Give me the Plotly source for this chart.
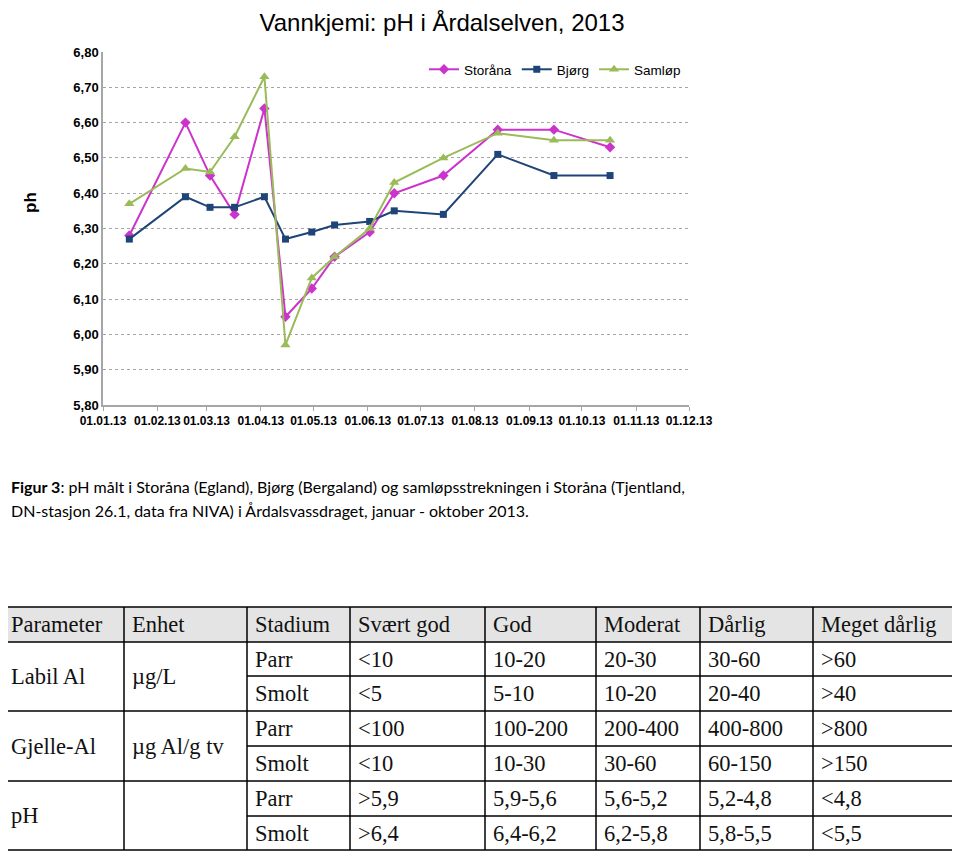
import plotly.graph_objects as go

# ---------------- data ----------------
dates = ["2013-01-16", "2013-02-17", "2013-03-03", "2013-03-17", "2013-04-03",
         "2013-04-15", "2013-04-30", "2013-05-13", "2013-06-02", "2013-06-16",
         "2013-07-14", "2013-08-14", "2013-09-15", "2013-10-17"]
storana = [6.28, 6.60, 6.45, 6.34, 6.64, 6.05, 6.13, 6.22, 6.29, 6.40, 6.45, 6.58, 6.58, 6.53]
bjorg = [6.27, 6.39, 6.36, 6.36, 6.39, 6.27, 6.29, 6.31, 6.32, 6.35, 6.34, 6.51, 6.45, 6.45]
samlop = [6.37, 6.47, 6.46, 6.56, 6.73, 5.97, 6.16, 6.22, 6.30, 6.43, 6.50, 6.57, 6.55, 6.55]

y_ticks = [5.8, 5.9, 6.0, 6.1, 6.2, 6.3, 6.4, 6.5, 6.6, 6.7, 6.8]
y_tick_labels = ["5,80", "5,90", "6,00", "6,10", "6,20", "6,30", "6,40", "6,50", "6,60", "6,70", "6,80"]
x_tick_dates = ["2013-01-01", "2013-02-01", "2013-03-01", "2013-04-01", "2013-05-01", "2013-06-01",
                "2013-07-01", "2013-08-01", "2013-09-01", "2013-10-01", "2013-11-01", "2013-12-01"]
x_tick_labels = ["01.01.13", "01.02.13", "01.03.13", "01.04.13", "01.05.13", "01.06.13",
                 "01.07.13", "01.08.13", "01.09.13", "01.10.13", "01.11.13", "01.12.13"]

chart_title = "Vannkjemi: pH i Årdalselven, 2013"
y_title = "ph"
caption_line1 = ("<b>Figur 3</b>: pH målt i Storåna (Egland), Bjørg (Bergaland) og "
                 "samløpsstrekningen i Storåna (Tjentland,")
caption_line2 = "DN-stasjon 26.1, data fra NIVA) i Årdalsvassdraget, januar - oktober 2013."

table_header = ["Parameter", "Enhet", "Stadium", "Svært god", "God", "Moderat", "Dårlig", "Meget dårlig"]
table_params = ["Labil Al", "Gjelle-Al", "pH"]
table_units = ["µg/L", "µg Al/g tv", ""]
table_stadium = ["Parr", "Smolt", "Parr", "Smolt", "Parr", "Smolt"]
table_values = [
    ["<10", "10-20", "20-30", "30-60", ">60"],
    ["<5", "5-10", "10-20", "20-40", ">40"],
    ["<100", "100-200", "200-400", "400-800", ">800"],
    ["<10", "10-30", "30-60", "60-150", ">150"],
    [">5,9", "5,9-5,6", "5,6-5,2", "5,2-4,8", "<4,8"],
    [">6,4", "6,4-6,2", "6,2-5,8", "5,8-5,5", "<5,5"],
]

# ---------------- layout geometry (screen pixels; page body has an 8px margin) ----------------
OFF = 8
W, H = 960 - OFF, 851 - OFF
SPL, SPR, SPT, SPB = 103, 689, 52, 405   # plot area on screen
PL, PR, PT, PB = SPL - OFF, SPR - OFF, SPT - OFF, SPB - OFF


def px(x):
    return (x - SPL) / (SPR - SPL)


def py(y):
    return (SPB - y) / (SPB - SPT)


fig = go.Figure()
fig.add_trace(go.Scatter(
    x=dates, y=storana, mode="lines+markers", name="Storåna",
    line=dict(color="#CC33CC", width=2),
    marker=dict(symbol="diamond", size=8, color="#CC33CC")))
fig.add_trace(go.Scatter(
    x=dates, y=bjorg, mode="lines+markers", name="Bjørg",
    line=dict(color="#1F4478", width=2),
    marker=dict(symbol="square", size=7, color="#1F4478")))
fig.add_trace(go.Scatter(
    x=dates, y=samlop, mode="lines+markers", name="Samløp",
    line=dict(color="#9BBB59", width=2),
    marker=dict(symbol="triangle-up", size=9, color="#9BBB59")))

annotations = []
shapes = []

# y-axis title
annotations.append(dict(text="<b>" + y_title + "</b>", x=px(30), y=py(203), xref="paper", yref="paper",
                        xanchor="center", yanchor="middle",
                        showarrow=False, textangle=-90, font=dict(family="Liberation Sans", size=17, color="#000")))

# caption
cap_font = dict(family="Lato", size=16, color="#000")
annotations.append(dict(text=caption_line1, x=px(9), y=py(486), xref="paper", yref="paper",
                        xanchor="left", yanchor="middle", showarrow=False, font=cap_font))
annotations.append(dict(text=caption_line2, x=px(9), y=py(510), xref="paper", yref="paper",
                        xanchor="left", yanchor="middle", showarrow=False, font=cap_font))

# table
col_x = [3, 124, 247, 350, 485, 596, 700, 813, 957]
row_y = [607, 642, 676, 711, 746, 781, 816, 850]
line_style = dict(color="#000", width=1.5)

shapes.append(dict(type="rect", xref="paper", yref="paper", x0=px(col_x[0]), x1=px(col_x[-1]),
                   y0=py(row_y[0]), y1=py(row_y[1]), fillcolor="#E4E4E4", line=dict(width=0), layer="below"))
for i, yv in enumerate(row_y):
    x_start = col_x[0] if i in (0, 1, 3, 5, 7) else col_x[2]
    shapes.append(dict(type="line", xref="paper", yref="paper", x0=px(x_start), x1=px(col_x[-1]),
                       y0=py(yv), y1=py(yv), line=line_style))
for xv in col_x:
    shapes.append(dict(type="line", xref="paper", yref="paper", x0=px(xv), x1=px(xv),
                       y0=py(row_y[0]), y1=py(row_y[-1]), line=line_style))

tab_font = dict(family="Liberation Serif", size=22.5, color="#111")
pad = 6


def cell_text(text, x, y):
    annotations.append(dict(text=text.replace("<", "&lt;").replace(">", "&gt;"), x=px(x), y=py(y),
                            xref="paper", yref="paper", xanchor="left", yanchor="middle",
                            showarrow=False, font=tab_font))


for j, h in enumerate(table_header):
    cell_text(h, col_x[j] + pad, (row_y[0] + row_y[1]) / 2)
for k, (p, u) in enumerate(zip(table_params, table_units)):
    yc = (row_y[1 + 2 * k] + row_y[3 + 2 * k]) / 2
    cell_text(p, col_x[0] + pad, yc)
    if u:
        cell_text(u, col_x[1] + pad, yc)
for r, (st, vals) in enumerate(zip(table_stadium, table_values)):
    yc = (row_y[1 + r] + row_y[2 + r]) / 2
    cell_text(st, col_x[2] + pad, yc)
    for j, v in enumerate(vals):
        cell_text(v, col_x[3 + j] + pad, yc)

fig.update_layout(
    width=W, height=H,
    margin=dict(l=PL, r=W - PR, t=PT, b=H - PB),
    paper_bgcolor="white", plot_bgcolor="white",
    title=dict(text=chart_title, x=px(442), xref="paper", xanchor="center",
               y=1 - (23 - OFF) / H, yref="container", yanchor="middle",
               font=dict(family="Liberation Sans", size=24, color="#000")),
    xaxis=dict(type="date", range=["2013-01-01", "2013-12-01"],
               tickvals=x_tick_dates, ticktext=x_tick_labels, tickangle=0,
               tickfont=dict(family="Liberation Sans", size=12, color="#000", weight="bold"),
               showgrid=False, zeroline=False, showline=True, linecolor="#A6A6A6", linewidth=1.5,
               ticks="outside", ticklen=4, tickcolor="#A6A6A6"),
    yaxis=dict(range=[5.8, 6.8], tickvals=y_ticks, ticktext=y_tick_labels,
               tickfont=dict(family="Liberation Sans", size=13, color="#000", weight="bold"),
               showgrid=True, gridcolor="#A6A6A6", griddash="3px,3px", gridwidth=1,
               zeroline=False, showline=True, linecolor="#A6A6A6", linewidth=1.5, ticks=""),
    legend=dict(orientation="h", x=px(424), y=py(54), xanchor="left", yanchor="top",
                font=dict(family="Liberation Sans", size=13.5, color="#000"),
                bgcolor="rgba(255,255,255,0)", itemwidth=30, tracegroupgap=0),
    showlegend=True,
    annotations=annotations,
    shapes=shapes,
)

fig.write_html("out.html")
